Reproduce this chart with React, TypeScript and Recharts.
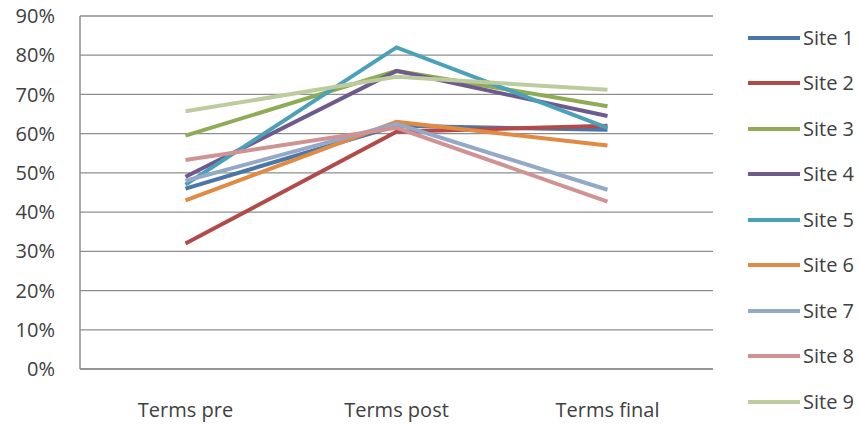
import { CartesianGrid, Line, LineChart, XAxis, YAxis } from "recharts"

const categories = ["Terms pre", "Terms post", "Terms final"]

const site1 = [0.46, 0.62, 0.61]
const site2 = [0.32, 0.605, 0.62]
const site3 = [0.595, 0.76, 0.67]
const site4 = [0.49, 0.76, 0.645]
const site5 = [0.47, 0.82, 0.615]
const site6 = [0.43, 0.63, 0.57]
const site7 = [0.48, 0.625, 0.457]
const site8 = [0.533, 0.615, 0.427]
const site9 = [0.657, 0.745, 0.712]

const seriesNames = ["Site 1", "Site 2", "Site 3", "Site 4", "Site 5", "Site 6", "Site 7", "Site 8", "Site 9"]
const seriesValues = [site1, site2, site3, site4, site5, site6, site7, site8, site9]
const seriesColors = [
  "#4a76a8",
  "#b24a4a",
  "#8fab55",
  "#6f5a8c",
  "#4aa1b8",
  "#e08a44",
  "#94a8c8",
  "#d09292",
  "#bccc9f",
]

const yTicks = [0, 0.1, 0.2, 0.3, 0.4, 0.5, 0.6, 0.7, 0.8, 0.9]

const data = categories.map((name, i) => {
  const row: Record<string, string | number> = { name }
  seriesNames.forEach((s, j) => {
    row[s] = seriesValues[j][i]
  })
  return row
})

const font = "'Open Sans', sans-serif"
const textColor = "#404040"
const gridColor = "#8e8e8e"

export default function App() {
  return (
    <div style={{ position: "absolute", left: 0, top: 0, width: 859, height: 424, background: "#fff", fontFamily: font }}>
      <div style={{ position: "absolute", left: 0, top: 0 }}>
        <LineChart width={730} height={424} data={data} margin={{ top: 16, right: 17, left: 0, bottom: 15 }}>
          <CartesianGrid vertical={false} stroke={gridColor} strokeWidth={1.3} />
          <XAxis
            dataKey="name"
            scale="band"
            height={40}
            stroke={gridColor}
            strokeWidth={1.5}
            tickLine={false}
            tickSize={6}
            tickMargin={28}
            tick={{ fill: textColor, fontSize: 20, fontFamily: font }}
          />
          <YAxis
            width={80}
            domain={[0, 0.9]}
            ticks={yTicks}
            stroke={gridColor}
            strokeWidth={1.5}
            tickLine={false}
            tickSize={6}
            tickMargin={19}
            tick={{ fill: textColor, fontSize: 20, fontFamily: font }}
            tickFormatter={(v) => `${Math.round(v * 100)}%`}
          />
          {seriesNames.map((s, j) => (
            <Line
              key={s}
              type="linear"
              dataKey={s}
              stroke={seriesColors[j]}
              strokeWidth={4}
              dot={false}
              activeDot={false}
              isAnimationActive={false}
            />
          ))}
        </LineChart>
      </div>
      <div style={{ position: "absolute", left: 748, top: 15 }}>
        {seriesNames.map((s, j) => (
          <div key={s} style={{ height: 45.5, display: "flex", alignItems: "center" }}>
            <div style={{ width: 52, height: 4, background: seriesColors[j], marginRight: 3 }} />
            <span style={{ fontSize: 20, color: textColor, lineHeight: 1 }}>{s}</span>
          </div>
        ))}
      </div>
    </div>
  )
}
